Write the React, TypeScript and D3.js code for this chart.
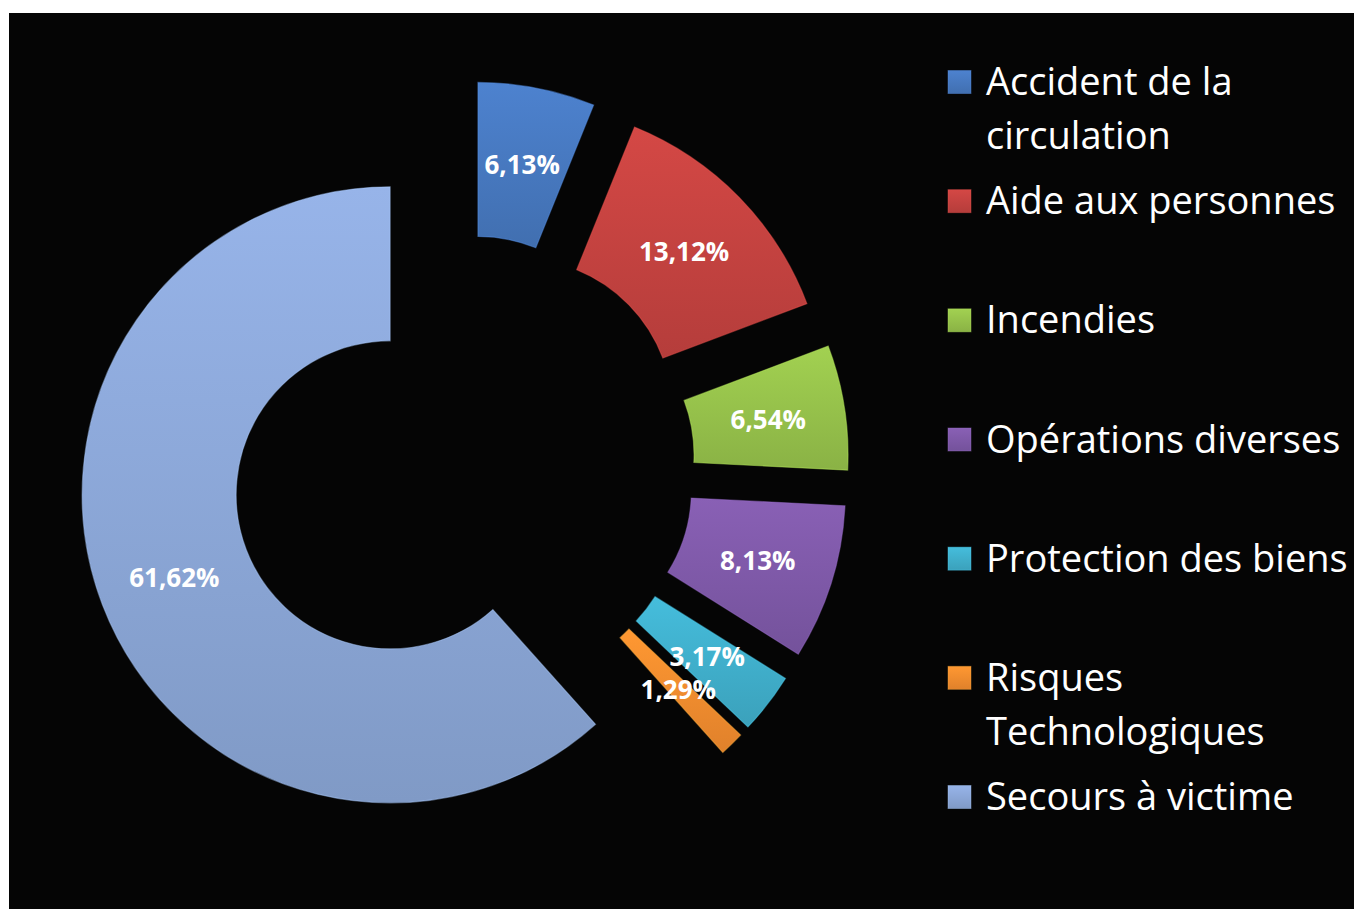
import React from "react";
import * as d3 from "d3";

const categories = [
  "Accident de la circulation",
  "Aide aux personnes",
  "Incendies",
  "Opérations diverses",
  "Protection des biens",
  "Risques Technologiques",
  "Secours à victime",
];
const legendLines = [
  ["Accident de la", "circulation"],
  ["Aide aux personnes"],
  ["Incendies"],
  ["Opérations diverses"],
  ["Protection des biens"],
  ["Risques", "Technologiques"],
  ["Secours à victime"],
];
const values = [6.13, 13.12, 6.54, 8.13, 3.17, 1.29, 61.62];
const colors = ["#4677bd", "#c2423f", "#94bf4a", "#7d58a6", "#3fadc9", "#f18b2e", "#8aa5d5"];

const W = 1354;
const H = 909;
const CX = 463;
const CY = 467;
const R_OUT = 308;
const R_IN = 154;
const EXPLODE = 78;

export default function App() {
  const pie = d3
    .pie<number>()
    .sort(null)
    .value((d) => d)
    .startAngle(0)
    .endAngle(Math.PI * 2);
  const arcs = pie(values);
  const arc = d3.arc<d3.PieArcDatum<number>>().innerRadius(R_IN).outerRadius(R_OUT);

  const legendY = d3
    .scalePoint<number>()
    .domain(d3.range(categories.length))
    .range([82, 797]);

  const fmt = (v: number) => v.toFixed(2).replace(".", ",") + "%";

  return (
    <svg
      width={W}
      height={H}
      style={{ position: "absolute", left: 0, top: 0, display: "block" }}
    >
      <defs>
        {colors.map((c, i) => (
          <linearGradient key={i} id={`g${i}`} x1="0" y1="0" x2="0" y2="1">
            <stop offset="0" stopColor={d3.color(c)!.brighter(0.25).formatHex()} />
            <stop offset="1" stopColor={d3.color(c)!.darker(0.2).formatHex()} />
          </linearGradient>
        ))}
      </defs>
      <rect x={0} y={0} width={W} height={H} fill="#ffffff" />
      <rect x={9} y={13} width={W - 9} height={H - 13} fill="#050505" />
      <g>
        {arcs.map((a, i) => {
          const mid = (a.startAngle + a.endAngle) / 2;
          const dx = EXPLODE * Math.sin(mid);
          const dy = -EXPLODE * Math.cos(mid);
          return (
            <g key={i} transform={`translate(${CX + dx},${CY + dy})`}>
              <path
                d={arc(a) || ""}
                fill={`url(#g${i})`}
                stroke={d3.color(colors[i])!.brighter(0.6).formatHex()}
                strokeOpacity={0.45}
                strokeWidth={1.2}
              />
            </g>
          );
        })}
        {arcs.map((a, i) => {
          const mid = (a.startAngle + a.endAngle) / 2;
          const dx = EXPLODE * Math.sin(mid);
          const dy = -EXPLODE * Math.cos(mid);
          const [lx, ly] = arc.centroid(a);
          return (
            <text
              key={i}
              x={CX + dx + lx}
              y={CY + dy + ly}
              textAnchor="middle"
              dominantBaseline="central"
              fill="#ffffff"
              fontFamily="'Open Sans', sans-serif"
              fontWeight="bold"
              fontSize={26}
            >
              {fmt(values[i])}
            </text>
          );
        })}
      </g>
      <g>
        {categories.map((c, i) => {
          const cy = legendY(i)!;
          return (
            <g key={c}>
              <rect
                x={948}
                y={cy - 11.5}
                width={23}
                height={23}
                fill={`url(#g${i})`}
                stroke={d3.color(colors[i])!.brighter(0.6).formatHex()}
                strokeOpacity={0.4}
              />
              <text
                x={986}
                y={cy + 13}
                fill="#ffffff"
                fontFamily="'Open Sans', sans-serif"
                fontSize={38}
              >
                {legendLines[i].map((line, j) => (
                  <tspan key={j} x={986} dy={j === 0 ? 0 : 54}>
                    {line}
                  </tspan>
                ))}
              </text>
            </g>
          );
        })}
      </g>
    </svg>
  );
}
